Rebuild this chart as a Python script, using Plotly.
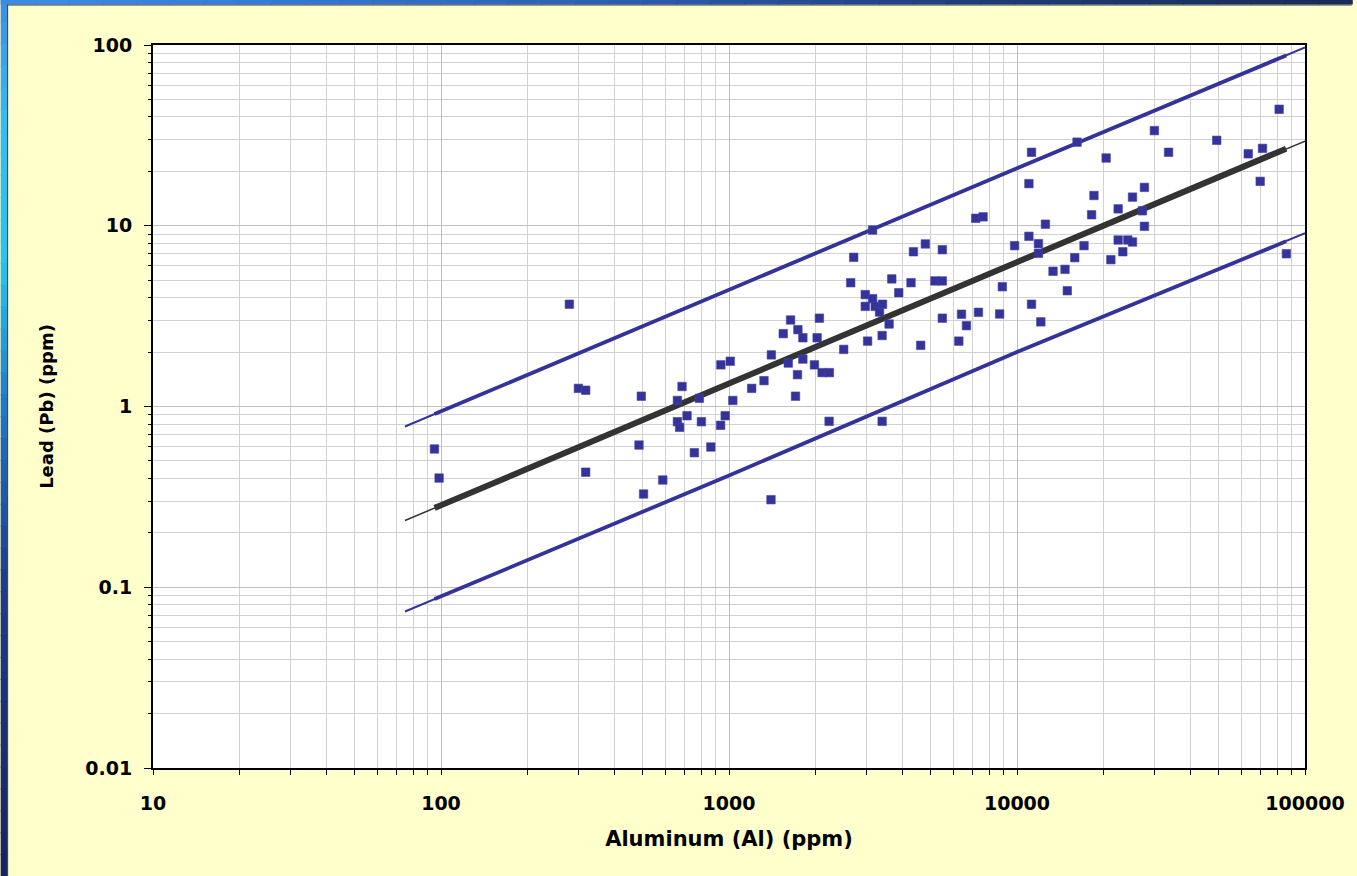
import plotly.graph_objects as go

# ---------------- data ----------------
al_ppm = [94.9, 98.5, 279, 300, 318, 318, 487, 496, 505, 589,
          662, 687, 789, 715, 662, 674, 802, 758, 865, 935,
          970, 1031, 1199, 1323, 1403, 1543, 1606, 1636, 1702, 1729,
          1735, 1805, 1805, 1980, 2023, 2060, 2105, 2231, 2226, 1399,
          937, 1010, 2502, 2646, 2710, 2972, 2972, 3029, 3152, 3152,
          3218, 3332, 3413, 3402, 3402, 3597, 3675, 3886, 4285, 4369,
          4630, 4806, 5188, 5504, 5504, 5504, 6281, 6418, 6675, 7189,
          7347, 7626, 8705, 8893, 9809, 11000, 11000, 11230, 11230, 11870,
          11870, 12100, 12550, 13340, 14680, 14950, 15870, 16160, 17090, 18160,
          18500, 20400, 21180, 22450, 22450, 23300, 24250, 25180, 25180, 27250,
          27700, 27700, 29990, 33610, 49370, 63530, 69890, 71190, 81330, 86180]

pb_ppm = [0.582, 0.402, 3.68, 1.26, 1.23, 0.433, 0.612, 1.14, 0.328, 0.392,
          1.08, 1.29, 1.11, 0.889, 0.824, 0.767, 0.824, 0.555, 0.597, 0.787,
          0.889, 1.08, 1.26, 1.39, 1.93, 2.53, 1.74, 3.01, 1.14, 1.50,
          2.66, 2.40, 1.83, 1.70, 2.40, 3.08, 1.54, 1.54, 0.828, 0.305,
          1.70, 1.78, 2.07, 4.84, 6.69, 4.16, 3.58, 2.30, 9.47, 3.95,
          3.58, 3.33, 3.68, 2.47, 0.828, 2.86, 5.08, 4.26, 4.84, 7.18,
          2.18, 7.93, 4.95, 7.37, 4.95, 3.08, 2.30, 3.24, 2.80, 11.0,
          3.32, 11.2, 3.25, 4.60, 7.76, 17.1, 8.74, 25.5, 3.68, 7.96,
          7.04, 2.94, 10.2, 5.60, 5.74, 4.37, 6.66, 29.0, 7.76, 11.5,
          14.7, 23.7, 6.49, 12.4, 8.34, 7.18, 8.34, 14.4, 8.13, 12.1,
          16.3, 9.93, 33.6, 25.5, 29.7, 25.0, 17.6, 26.8, 44.1, 7.0]

# regression line and prediction band (full extent)
line_al = [75, 100, 1000, 10000, 100000]
fit_pb = [0.234, 0.284, 1.34, 6.3, 29.4]
upper_pb = [0.775, 0.94, 4.4, 20.8, 97.0]
lower_pb = [0.0734, 0.089, 0.415, 2.0, 9.1]

# same lines over the data range (drawn heavier)
thick_al = [95, 100, 1000, 10000, 86000]
thick_fit_pb = [0.275, 0.284, 1.34, 6.3, 26.7]
thick_upper_pb = [0.908, 0.94, 4.4, 20.8, 87.6]
thick_lower_pb = [0.086, 0.089, 0.415, 2.0, 8.2]

x_tick_vals = [10, 100, 1000, 10000, 100000]
x_tick_text = ["10", "100", "1000", "10000", "100000"]
y_tick_vals = [0.01, 0.1, 1, 10, 100]
y_tick_text = ["0.01", "0.1", "1", "10", "100"]

x_title = "Aluminum (Al) (ppm)"
y_title = "Lead (Pb) (ppm)"

BLUE = "#333399"
DARK = "#333333"

# ---------------- figure ----------------
fig = go.Figure()

for ys, yt, col, w_thin, w_thick in [
    (upper_pb, thick_upper_pb, BLUE, 2, 3.8),
    (lower_pb, thick_lower_pb, BLUE, 2, 3.8),
    (fit_pb, thick_fit_pb, DARK, 1.5, 6),
]:
    fig.add_trace(go.Scatter(x=line_al, y=ys, mode="lines",
                             line=dict(color=col, width=w_thin),
                             hoverinfo="skip"))
    fig.add_trace(go.Scatter(x=thick_al, y=yt, mode="lines",
                             line=dict(color=col, width=w_thick),
                             hoverinfo="skip"))

fig.add_trace(go.Scatter(x=al_ppm, y=pb_ppm, mode="markers",
                         marker=dict(symbol="square", size=8.5, color=BLUE,
                                     line=dict(width=0.6, color="#4545A8"))))

FONT = "DejaVu Sans"

# plot area in pixels
L, R, T, B = 153, 1310, 45, 768
W, H = 1357, 876


def px(xp):
    return (xp - L) / (R - L)


def py(yp):
    return (B - yp) / (B - T)


def hex2rgb(h):
    h = h.lstrip("#")
    return tuple(int(h[i:i + 2], 16) for i in (0, 2, 4))


def grad(stops, t):
    for i in range(len(stops) - 1):
        p0, c0 = stops[i]
        p1, c1 = stops[i + 1]
        if p0 <= t <= p1:
            f = (t - p0) / (p1 - p0) if p1 > p0 else 0
            a, b = hex2rgb(c0), hex2rgb(c1)
            return "rgb(%d,%d,%d)" % tuple(round(a[k] + (b[k] - a[k]) * f) for k in range(3))
    return stops[-1][1]


shapes = []
left_stops = [(0, "#3F8BE3"), (120, "#3AB8F0"), (260, "#2CC3EE"), (420, "#2270C4"),
              (580, "#1E3C8C"), (876, "#1A2260")]
top_stops = [(0, "#3F8BE3"), (300, "#3577D2"), (700, "#2A55A8"), (1000, "#1E3A78"),
             (1357, "#1B2A55")]
N = 40
for i in range(N):
    y0 = H * i / N
    y1 = H * (i + 1) / N + 1
    shapes.append(dict(type="rect", xref="paper", yref="paper",
                       x0=px(0), x1=px(6.5), y0=py(y1), y1=py(y0),
                       fillcolor=grad(left_stops, (y0 + y1) / 2), line=dict(width=0),
                       layer="above"))
for i in range(N):
    x0 = W * i / N
    x1 = W * (i + 1) / N + 1
    shapes.append(dict(type="rect", xref="paper", yref="paper",
                       x0=px(x0), x1=px(x1), y0=py(4.5), y1=py(0),
                       fillcolor=grad(top_stops, (x0 + x1) / 2), line=dict(width=0),
                       layer="above"))
shapes.append(dict(type="rect", xref="paper", yref="paper",
                   x0=px(6.5), x1=px(7.5), y0=py(H), y1=py(4.5),
                   fillcolor="#24344A", line=dict(width=0), layer="above"))
shapes.append(dict(type="rect", xref="paper", yref="paper",
                   x0=px(6.5), x1=px(W), y0=py(5.5), y1=py(4.5),
                   fillcolor="#2A3A4E", line=dict(width=0), layer="above"))

axis_common = dict(
    type="log",
    showline=True, linecolor="black", linewidth=2, mirror=True,
    showgrid=True, gridcolor="#C0C0C0", gridwidth=1,
    ticks="outside", tickcolor="black", tickwidth=1,
    tickfont=dict(family=FONT, size=19, color="black", weight="bold"),
    zeroline=False,
)

fig.update_layout(
    width=W, height=H,
    margin=dict(l=L, r=W - R, t=T, b=H - B, pad=0),
    paper_bgcolor="#FFFFCC",
    plot_bgcolor="white",
    showlegend=False,
    shapes=shapes,
    xaxis=dict(
        axis_common,
        range=[1, 5],
        tickmode="array", tickvals=x_tick_vals, ticktext=x_tick_text,
        ticklen=5, ticklabelstandoff=12,
        minor=dict(dtick="D1", showgrid=True, gridcolor="#D2D2D2", gridwidth=1,
                   ticks="outside", ticklen=5, tickcolor="black", tickwidth=1),
        title=dict(text=x_title, standoff=19,
                   font=dict(family=FONT, size=21, color="black", weight="bold")),
    ),
    yaxis=dict(
        axis_common,
        range=[-2, 2],
        tickmode="array", tickvals=y_tick_vals, ticktext=y_tick_text,
        ticklen=7, ticklabelstandoff=8,
        minor=dict(dtick="D1", showgrid=True, gridcolor="#D2D2D2", gridwidth=1,
                   ticks="outside", ticklen=3, tickcolor="black", tickwidth=1),
        title=dict(text=y_title, standoff=27,
                   font=dict(family=FONT, size=18, color="black", weight="bold")),
    ),
)

fig.write_html("out.html",
               config={"displayModeBar": False},
               post_script="document.body.style.margin='0';document.body.style.overflow='hidden';")
